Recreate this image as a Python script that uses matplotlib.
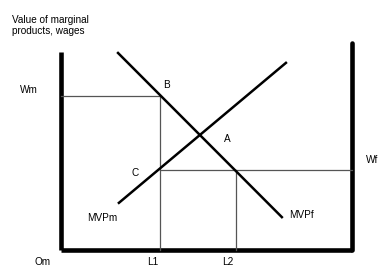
"""Marginal product / wage diagram (two-sector labour allocation)."""

import matplotlib

matplotlib.use("Agg")
import matplotlib.pyplot as plt  # noqa: E402

# diagram values (labour on x, value of marginal product on y)
box_width = 100.0
left_axis_top = 68.0
right_axis_top = 71.0
mvpm_x = [19.9, 77.3]
mvpm_y = [16.2, 64.3]
mvpf_x = [19.6, 75.9]
mvpf_y = [67.7, 11.3]
wm = 53.0
wf = 27.5
l1 = 34.0
l2 = 60.0

plt.rcParams["font.family"] = ["Liberation Sans", "DejaVu Sans"]

fig = plt.figure(figsize=(3.81, 2.70), dpi=100)
ax = fig.add_axes([0, 0, 1, 1])
ax.set_xlim(-20.96, 109.97)
ax.set_ylim(-6.87, 85.9)
ax.axis("off")

# box axes
ax.plot([0, 0], [0, left_axis_top], color="black", lw=3.3, solid_capstyle="butt")
ax.plot([box_width, box_width], [0, right_axis_top], color="black", lw=3.3, solid_capstyle="round")
ax.plot([0, box_width], [0, 0], color="black", lw=3.3, solid_capstyle="butt")

# guide lines
thin = dict(color="#555555", lw=0.9)
ax.plot([0, l1], [wm, wm], **thin)
ax.plot([l1, l1], [0, wm], **thin)
ax.plot([l1, box_width], [wf, wf], **thin)
ax.plot([l2, l2], [0, wf], **thin)

# marginal product curves
ax.plot(mvpm_x, mvpm_y, color="black", lw=1.8)
ax.plot(mvpf_x, mvpf_y, color="black", lw=1.8)

fs = 7.2
ax.text(-16.8, 80.8, "Value of marginal\nproducts, wages", fontsize=fs, va="top", ha="left", linespacing=1.2)
labels = [
    (-11.0, 55.0, "Wm"), (36.1, 56.7, "B"), (57.0, 38.1, "A"), (25.4, 26.5, "C"),
    (106.9, 30.9, "Wf"), (14.1, 11.0, "MVPm"), (82.8, 12.0, "MVPf"),
    (-6.5, -4.1, "Om"), (31.6, -4.1, "L1"), (57.4, -4.1, "L2"),
]
for x, y, s in labels:
    ax.text(x, y, s, fontsize=fs, ha="center", va="center")

fig.savefig("out.png", dpi=100)
